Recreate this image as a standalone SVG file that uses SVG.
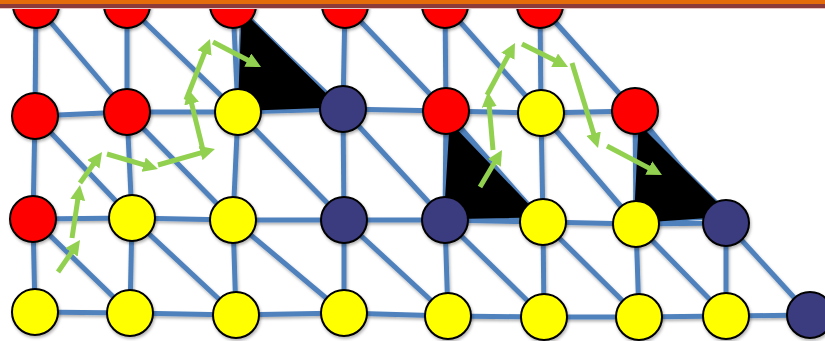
<svg xmlns="http://www.w3.org/2000/svg" width="825" height="341" viewBox="0 0 825 341">
<defs>
<style>
.e{stroke:#4F81BD;stroke-width:5;fill:none}
.tri{fill:#000;stroke:#4F81BD;stroke-width:1.5;stroke-linejoin:round}
.n{stroke:#000;stroke-width:2}
.r{fill:#FF0000}.y{fill:#FFFF00}.b{fill:#3B3A80}
.g{stroke:#92D050;stroke-width:5;fill:none;marker-end:url(#ah)}
</style>
<filter id="sh" x="-10%" y="-10%" width="120%" height="120%">
<feDropShadow dx="1" dy="2" stdDeviation="1.5" flood-color="#000" flood-opacity="0.3"/>
</filter>
<marker id="ah" viewBox="0 0 10 10" refX="2" refY="5" markerWidth="3" markerHeight="3" orient="auto" markerUnits="strokeWidth">
<path d="M0,0 L10,5 L0,10 z" fill="#92D050"/>
</marker>
</defs>
<g id="connectors" filter="url(#sh)">
<!-- r0-r1 verticals -->
<line class="e" x1="36" y1="5" x2="35" y2="116"/>
<line class="e" x1="127" y1="5" x2="127" y2="112"/>
<line class="e" x1="233" y1="5" x2="238" y2="112"/>
<line class="e" x1="345" y1="5" x2="343" y2="109"/>
<line class="e" x1="445" y1="5" x2="446" y2="111"/>
<line class="e" x1="540" y1="5" x2="541" y2="113"/>
<!-- r0-r1 diagonals -->
<line class="e" x1="36" y1="5" x2="127" y2="112"/>
<line class="e" x1="127" y1="5" x2="238" y2="112"/>
<line class="e" x1="233" y1="5" x2="343" y2="109"/>
<line class="e" x1="345" y1="5" x2="446" y2="111"/>
<line class="e" x1="445" y1="5" x2="541" y2="113"/>
<line class="e" x1="540" y1="5" x2="635" y2="111"/>
<!-- r1 horizontals -->
<line class="e" x1="35" y1="116" x2="127" y2="112"/>
<line class="e" x1="127" y1="112" x2="238" y2="112"/>
<line class="e" x1="238" y1="112" x2="343" y2="109"/>
<line class="e" x1="343" y1="109" x2="446" y2="111"/>
<line class="e" x1="446" y1="111" x2="541" y2="113"/>
<line class="e" x1="541" y1="113" x2="635" y2="111"/>
<!-- r1-r2 verticals -->
<line class="e" x1="35" y1="116" x2="33" y2="219"/>
<line class="e" x1="127" y1="112" x2="132" y2="218"/>
<line class="e" x1="238" y1="112" x2="233" y2="220"/>
<line class="e" x1="343" y1="109" x2="344" y2="220"/>
<line class="e" x1="446" y1="111" x2="445" y2="220"/>
<line class="e" x1="541" y1="113" x2="543" y2="222"/>
<line class="e" x1="635" y1="111" x2="636" y2="224"/>
<!-- r1-r2 diagonals -->
<line class="e" x1="35" y1="116" x2="132" y2="218"/>
<line class="e" x1="127" y1="112" x2="233" y2="220"/>
<line class="e" x1="238" y1="112" x2="344" y2="220"/>
<line class="e" x1="343" y1="109" x2="445" y2="220"/>
<line class="e" x1="446" y1="111" x2="543" y2="222"/>
<line class="e" x1="541" y1="113" x2="636" y2="224"/>
<line class="e" x1="635" y1="111" x2="726" y2="223"/>
<!-- r2 horizontals -->
<line class="e" x1="33" y1="219" x2="132" y2="218"/>
<line class="e" x1="132" y1="218" x2="233" y2="220"/>
<line class="e" x1="233" y1="220" x2="344" y2="220"/>
<line class="e" x1="344" y1="220" x2="445" y2="220"/>
<line class="e" x1="445" y1="220" x2="543" y2="222"/>
<line class="e" x1="543" y1="222" x2="636" y2="224"/>
<line class="e" x1="636" y1="224" x2="726" y2="223"/>
<!-- r2-r3 verticals -->
<line class="e" x1="33" y1="219" x2="35" y2="312"/>
<line class="e" x1="132" y1="218" x2="130" y2="313"/>
<line class="e" x1="233" y1="220" x2="236" y2="315"/>
<line class="e" x1="344" y1="220" x2="344" y2="313"/>
<line class="e" x1="445" y1="220" x2="448" y2="316"/>
<line class="e" x1="543" y1="222" x2="544" y2="317"/>
<line class="e" x1="636" y1="224" x2="639" y2="317"/>
<line class="e" x1="726" y1="223" x2="726" y2="316"/>
<!-- r2-r3 diagonals -->
<line class="e" x1="33" y1="219" x2="130" y2="313"/>
<line class="e" x1="132" y1="218" x2="236" y2="315"/>
<line class="e" x1="233" y1="220" x2="344" y2="313"/>
<line class="e" x1="344" y1="220" x2="448" y2="316"/>
<line class="e" x1="445" y1="220" x2="544" y2="317"/>
<line class="e" x1="543" y1="222" x2="639" y2="317"/>
<line class="e" x1="636" y1="224" x2="726" y2="316"/>
<line class="e" x1="726" y1="223" x2="810" y2="315"/>
<!-- r3 horizontals -->
<line class="e" x1="35" y1="312" x2="130" y2="313"/>
<line class="e" x1="130" y1="313" x2="236" y2="315"/>
<line class="e" x1="236" y1="315" x2="344" y2="313"/>
<line class="e" x1="344" y1="313" x2="448" y2="316"/>
<line class="e" x1="448" y1="316" x2="544" y2="317"/>
<line class="e" x1="544" y1="317" x2="639" y2="317"/>
<line class="e" x1="639" y1="317" x2="726" y2="316"/>
<line class="e" x1="726" y1="316" x2="810" y2="315"/>
</g>
<g id="triangles">
<polygon class="tri" points="241,8 237,112 342,108"/>
<polygon class="tri" points="449,120 443,220 543,218"/>
<polygon class="tri" points="638,122 633,224 733,217"/>
</g>
<g id="nodes" filter="url(#sh)">
<g id="n00"><circle class="n r" cx="36" cy="5" r="23"/></g>
<g id="n01"><circle class="n r" cx="127" cy="5" r="23"/></g>
<g id="n02"><circle class="n r" cx="233" cy="5" r="23"/></g>
<g id="n03"><circle class="n r" cx="345" cy="5" r="23"/></g>
<g id="n04"><circle class="n r" cx="445" cy="5" r="23"/></g>
<g id="n05"><circle class="n r" cx="540" cy="5" r="23"/></g>
<g id="n10"><circle class="n r" cx="35" cy="116" r="23"/></g>
<g id="n11"><circle class="n r" cx="127" cy="112" r="23"/></g>
<g id="n12"><circle class="n y" cx="238" cy="112" r="23"/></g>
<g id="n13"><circle class="n b" cx="343" cy="109" r="23"/></g>
<g id="n14"><circle class="n r" cx="446" cy="111" r="23"/></g>
<g id="n15"><circle class="n y" cx="541" cy="113" r="23"/></g>
<g id="n16"><circle class="n r" cx="635" cy="111" r="23"/></g>
<g id="n20"><circle class="n r" cx="33" cy="219" r="23"/></g>
<g id="n21"><circle class="n y" cx="132" cy="218" r="23"/></g>
<g id="n22"><circle class="n y" cx="233" cy="220" r="23"/></g>
<g id="n23"><circle class="n b" cx="344" cy="220" r="23"/></g>
<g id="n24"><circle class="n b" cx="445" cy="220" r="23"/></g>
<g id="n25"><circle class="n y" cx="543" cy="222" r="23"/></g>
<g id="n26"><circle class="n y" cx="636" cy="224" r="23"/></g>
<g id="n27"><circle class="n b" cx="726" cy="223" r="23"/></g>
<g id="n30"><circle class="n y" cx="35" cy="312" r="23"/></g>
<g id="n31"><circle class="n y" cx="130" cy="313" r="23"/></g>
<g id="n32"><circle class="n y" cx="236" cy="315" r="23"/></g>
<g id="n33"><circle class="n y" cx="344" cy="313" r="23"/></g>
<g id="n34"><circle class="n y" cx="448" cy="316" r="23"/></g>
<g id="n35"><circle class="n y" cx="544" cy="317" r="23"/></g>
<g id="n36"><circle class="n y" cx="639" cy="317" r="23"/></g>
<g id="n37"><circle class="n y" cx="726" cy="316" r="23"/></g>
<g id="n38"><circle class="n b" cx="810" cy="315" r="23"/></g>
</g>
<g id="arrows">
<line class="g" x1="58" y1="272" x2="73.2" y2="249.9"/>
<line class="g" x1="72" y1="238" x2="78.2" y2="196.9"/>
<line class="g" x1="80" y1="183" x2="95.1" y2="161.8"/>
<line class="g" x1="107" y1="154" x2="146.5" y2="165.6"/>
<line class="g" x1="158" y1="165" x2="203.4" y2="152.2"/>
<line class="g" x1="203" y1="150" x2="190.9" y2="100.7"/>
<line class="g" x1="186" y1="100" x2="205.6" y2="50.2"/>
<line class="g" x1="213" y1="42" x2="250.4" y2="61.5"/>
<line class="g" x1="480" y1="187" x2="495.9" y2="160.3"/>
<line class="g" x1="493" y1="150" x2="489" y2="104"/>
<line class="g" x1="487" y1="95" x2="509.3" y2="53.6"/>
<line class="g" x1="522" y1="44" x2="557.3" y2="61.6"/>
<line class="g" x1="572" y1="63" x2="594.5" y2="136.5"/>
<line class="g" x1="607" y1="146" x2="651.4" y2="169.4"/>
</g>
<g id="topbar">
<rect x="0" y="0" width="825" height="4" fill="#E46C0A"/>
<rect x="0" y="4" width="825" height="4" fill="#8C3A3A"/>
<rect x="0" y="8" width="825" height="1" fill="#E6C4C4"/>
</g>
</svg>
